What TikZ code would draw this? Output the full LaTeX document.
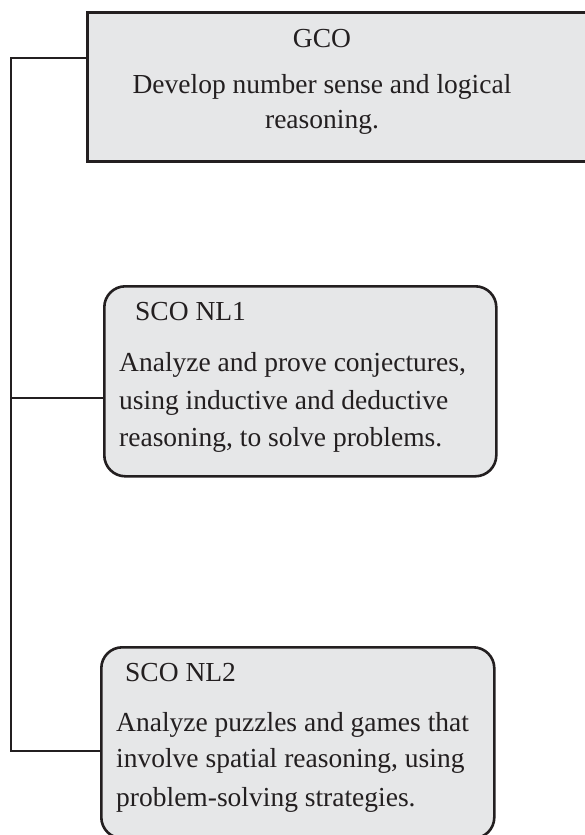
\documentclass[tikz,border=0pt]{standalone}
\usepackage{fontspec}
\setmainfont{Liberation Serif}
\definecolor{boxfill}{HTML}{E6E7E8}
\definecolor{ink}{HTML}{231F20}
\begin{document}
\begin{tikzpicture}[x=1pt,y=-1pt,
  box/.style={draw=ink,fill=boxfill,line width=2.6pt,inner sep=0pt,anchor=north west},
  roundbox/.style={box,rounded corners=21pt},
  conn/.style={draw=ink,line width=2.2pt},
  txt/.style={inner sep=0pt,text=ink,font=\fontsize{27.5}{33}\selectfont},
  lline/.style={txt,anchor=base west},
  cline/.style={txt,anchor=base}]
\useasboundingbox (0,0) rectangle (585,835);

% outcome boxes
\node[box,minimum width=505pt,minimum height=149pt] (gco) at (86,11) {};
\node[roundbox,minimum width=392pt,minimum height=190pt] (nl1) at (103,285) {};
\node[roundbox,minimum width=393pt,minimum height=191pt] (nl2) at (100,646) {};

% general outcome text
\node[cline] (gcoT) at (322,47) {GCO};
\node[cline] (gcoA) at (322,93) {Develop number sense and logical};
\node[cline] (gcoB) at (322,128) {reasoning.};

% first specific outcome
\node[lline] (nl1T) at (135,320) {SCO NL1};
\node[lline] (nl1A) at (119,371) {Analyze and prove conjectures,};
\node[lline] (nl1B) at (119,409) {using inductive and deductive};
\node[lline] (nl1C) at (119,446) {reasoning, to solve problems.};

% second specific outcome
\node[lline] (nl2T) at (125,681) {SCO NL2};
\node[lline] (nl2A) at (116,731) {Analyze puzzles and games that};
\node[lline] (nl2B) at (116,767) {involve spatial reasoning, using};
\node[lline] (nl2C) at (116,806) {problem-solving strategies.};

% bracket connector on the left
\coordinate (top) at (11,58);
\coordinate (mid) at (11,398);
\coordinate (bot) at (11,751);
\draw[conn] (top -| gco.west) -- (top) -- (bot) -- (bot -| nl2.west);
\draw[conn] (mid) -- (mid -| nl1.west);
\end{tikzpicture}
\end{document}
